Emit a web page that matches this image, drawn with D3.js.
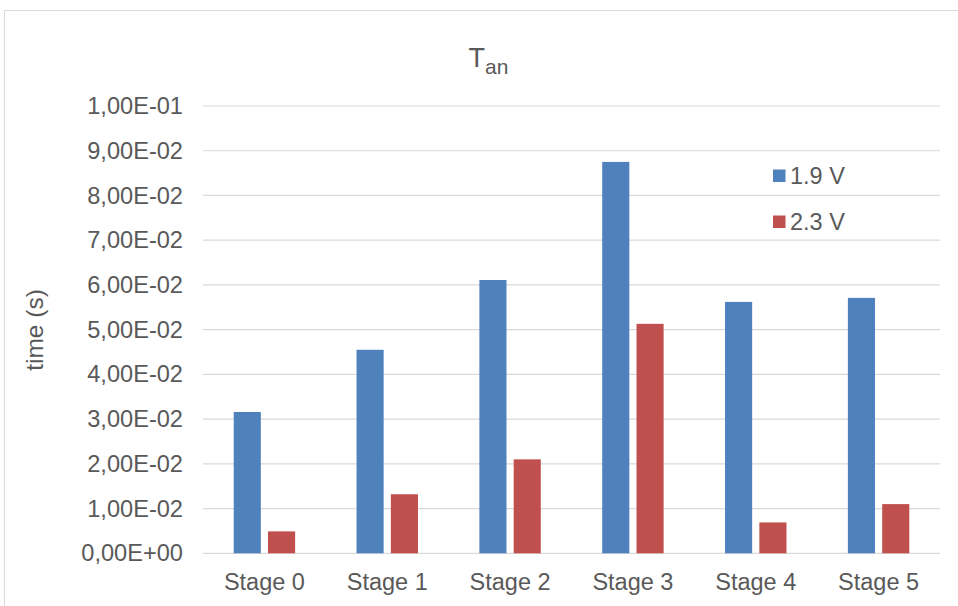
<!DOCTYPE html>
<html><head><meta charset="utf-8">
<script src="https://cdn.jsdelivr.net/npm/d3@7"></script>
<style>
html,body{margin:0;padding:0;background:#fff;}
svg{display:block;font-family:"Liberation Sans",Arial,sans-serif;}
</style></head>
<body>
<svg id="chart" width="958" height="606"></svg>
<script>
const categories = ["Stage 0","Stage 1","Stage 2","Stage 3","Stage 4","Stage 5"];
const seriesNames = ["1.9 V","2.3 V"];
const values19 = [0.0316,0.0455,0.0611,0.0875,0.0562,0.0571];
const values23 = [0.0049,0.0132,0.0210,0.0513,0.0069,0.0110];
const seriesColors = ["#4F81BD","#C0504D"];
const yTicks = [0,0.01,0.02,0.03,0.04,0.05,0.06,0.07,0.08,0.09,0.1];
const yTickLabels = ["0,00E+00","1,00E-02","2,00E-02","3,00E-02","4,00E-02","5,00E-02","6,00E-02","7,00E-02","8,00E-02","9,00E-02","1,00E-01"];

const svg = d3.select("#chart");
const txt = "#595959", grid = "#d9d9d9";
const L = 203, R = 940, T = 106, B = 553.3;

// frame
svg.append("path").attr("d","M4.5,606 V10.5 H958").attr("fill","none").attr("stroke",grid).attr("stroke-width",1);

const y = d3.scaleLinear().domain([0,0.1]).range([B,T]);
const x0 = d3.scaleBand().domain(categories).range([L,R]).paddingInner(0.5).paddingOuter(0.25);
const x1 = d3.scaleBand().domain(seriesNames).range([0,x0.bandwidth()]).paddingInner(0.21);

// gridlines
svg.append("g").selectAll("line").data(yTicks).join("line")
  .attr("x1",L).attr("x2",R).attr("y1",d=>y(d)).attr("y2",d=>y(d))
  .attr("stroke",grid).attr("stroke-width",1.2);

// y axis
const yAxis = d3.axisLeft(y).tickValues(yTicks).tickSize(0).tickPadding(20)
  .tickFormat((d,i)=>yTickLabels[i]);
const gy = svg.append("g").attr("transform",`translate(${L},0)`).call(yAxis);
gy.select(".domain").remove();
gy.selectAll("text").attr("fill",txt).style("font-size","23.6px").style("font-family","'Liberation Sans',Arial,sans-serif");

// x axis
const xAxis = d3.axisBottom(x0).tickSize(0).tickPadding(20.3);
const gx = svg.append("g").attr("transform",`translate(0,${B})`).call(xAxis);
gx.select(".domain").remove();
gx.selectAll("text").attr("fill",txt).style("font-size","23.5px").style("font-family","'Liberation Sans',Arial,sans-serif");

// bars
const rows = categories.map((c,i)=>({cat:c, vals:[values19[i],values23[i]]}));
const groups = svg.append("g").selectAll("g").data(rows).join("g")
  .attr("transform",d=>`translate(${x0(d.cat)},0)`);
groups.selectAll("rect").data(d=>d.vals.map((v,j)=>({v, s:seriesNames[j], c:seriesColors[j]}))).join("rect")
  .attr("x",d=>x1(d.s)).attr("width",x1.bandwidth())
  .attr("y",d=>y(d.v)).attr("height",d=>B-y(d.v))
  .attr("fill",d=>d.c);

// title
const title = svg.append("text").attr("x",468.5).attr("y",66.5).attr("fill",txt);
title.append("tspan").style("font-size","27px").text("T");
title.append("tspan").style("font-size","21px").attr("dy",7).text("an");

// y title
svg.append("text").attr("transform","translate(34,330) rotate(-90)")
  .attr("text-anchor","middle").attr("dominant-baseline","central")
  .attr("fill",txt).style("font-size","24.5px").text("time (s)");

// legend
const leg = svg.append("g").selectAll("g").data(seriesNames).join("g")
  .attr("transform",(d,i)=>`translate(773,${176 + i*46})`);
leg.append("rect").attr("x",0).attr("y",-6.5).attr("width",12.5).attr("height",12.5)
  .attr("fill",(d,i)=>seriesColors[i]);
leg.append("text").attr("x",17).attr("y",0).attr("dy","0.35em").attr("fill",txt)
  .style("font-size","23.5px").text(d=>d);
</script>
</body></html>
